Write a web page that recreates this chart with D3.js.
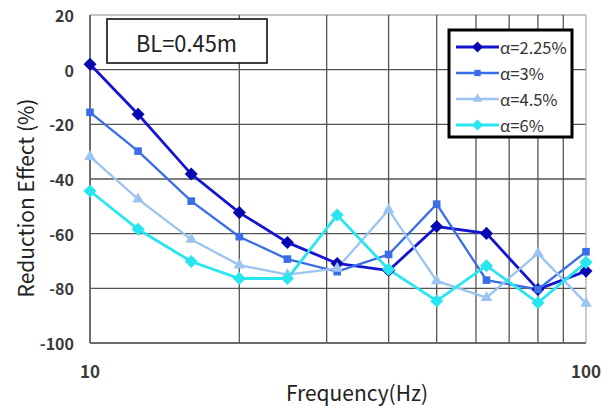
<!DOCTYPE html>
<html>
<head>
<meta charset="utf-8">
<script src="https://cdn.jsdelivr.net/npm/d3@7"></script>
<style>
  html, body { margin: 0; padding: 0; background: #fff; }
  svg { display: block; }
  text { font-family: "Noto Sans CJK JP", "Noto Sans", sans-serif; }
</style>
</head>
<body>
<svg id="chart" width="608" height="409"></svg>
<script>
// 1/3-octave band centre frequencies (Hz)
const frequencies = [10, 12.5, 16, 20, 25, 31.5, 40, 50, 63, 80, 100];

// Reduction effect (%) per porosity
const alpha225 = [2.0, -16.3, -38.2, -52.3, -63.2, -70.9, -73.5, -57.4, -59.9, -80.4, -73.7];
const alpha3   = [-15.6, -29.8, -48.1, -61.1, -69.3, -73.9, -67.6, -49.2, -77.0, -80.4, -66.6];
const alpha45  = [-31.8, -47.4, -62.1, -71.5, -75.0, -72.7, -51.3, -77.3, -83.4, -67.2, -85.5];
const alpha6   = [-44.4, -58.4, -70.2, -76.4, -76.4, -53.2, -73.1, -84.6, -71.7, -85.3, -70.5];

const seriesNames = ["α=2.25%", "α=3%", "α=4.5%", "α=6%"];
const yTicks = [20, 0, -20, -40, -60, -80, -100];
const xGrid = [10, 20, 30, 40, 50, 60, 70, 80, 90, 100];
const xTickLabels = [10, 100];

// diamond = square turned by 45 degrees
const series = [
  { name: seriesNames[0], values: alpha225, color: "#1414d2", fill: "#0808b0", shape: d3.symbolSquare,   size: 85, rot: 45, width: 2.8 },
  { name: seriesNames[1], values: alpha3,   color: "#3a6ee6", fill: "#3a6ee6", shape: d3.symbolSquare,   size: 58, rot: 0,  width: 2.3 },
  { name: seriesNames[2], values: alpha45,  color: "#9cc4f0", fill: "#9cc4f0", shape: d3.symbolTriangle, size: 58, rot: 0,  width: 2.3 },
  { name: seriesNames[3], values: alpha6,   color: "#28e6f0", fill: "#28e6f0", shape: d3.symbolSquare,   size: 85, rot: 45, width: 2.8 }
];

const svg = d3.select("#chart");
const margin = { left: 90, right: 22, top: 15, bottom: 66 };
const W = 608, H = 409;

const x = d3.scaleLog().domain([10, 100]).range([margin.left, W - margin.right]);
const y = d3.scaleLinear().domain([-100, 20]).range([H - margin.bottom, margin.top]);

const g = svg.append("g");

// grid
g.append("g").selectAll("line").data(yTicks).join("line")
  .attr("x1", x(10)).attr("x2", x(100))
  .attr("y1", d => y(d)).attr("y2", d => y(d))
  .attr("stroke", d => (d === 20 ? "#b0b0b0" : "#555")).attr("stroke-width", 1.3);
g.append("g").selectAll("line").data(xGrid).join("line")
  .attr("x1", d => x(d)).attr("x2", d => x(d))
  .attr("y1", y(20)).attr("y2", y(-100))
  .attr("stroke", d => (d === 100 ? "#b0b0b0" : "#555")).attr("stroke-width", 1.3);

// axis lines
g.append("line").attr("x1", x(10)).attr("x2", x(10)).attr("y1", y(20)).attr("y2", y(-100))
  .attr("stroke", "#666").attr("stroke-width", 1.5);
g.append("line").attr("x1", x(10)).attr("x2", x(100)).attr("y1", y(-100)).attr("y2", y(-100))
  .attr("stroke", "#666").attr("stroke-width", 1.5);

// y tick labels
g.append("g").selectAll("text").data(yTicks).join("text")
  .attr("x", x(10) - 16).attr("y", d => y(d))
  .attr("text-anchor", "end").attr("dominant-baseline", "central")
  .attr("font-size", 16).attr("font-weight", 600).attr("fill", "#3a3a3a")
  .text(d => d);

// x tick labels
g.append("g").selectAll("text").data(xTickLabels).join("text")
  .attr("x", d => x(d)).attr("y", 370)
  .attr("text-anchor", "middle").attr("dominant-baseline", "central")
  .attr("font-size", 17).attr("font-weight", 600).attr("fill", "#3a3a3a")
  .text(d => d);

// axis titles
svg.append("text").attr("x", 357).attr("y", 401)
  .attr("text-anchor", "middle")
  .attr("font-size", 21).attr("fill", "#222").text("Frequency(Hz)");
svg.append("text").attr("transform", "translate(25,198) rotate(-90)")
  .attr("text-anchor", "middle").attr("dominant-baseline", "central")
  .attr("font-size", 21).attr("fill", "#222").text("Reduction Effect (%)");

// lines and markers
const line = d3.line().x((d, i) => x(frequencies[i])).y(d => y(d));
series.forEach(s => {
  g.append("path").datum(s.values)
    .attr("d", line).attr("fill", "none")
    .attr("stroke", s.color).attr("stroke-width", s.width);
});
series.forEach(s => {
  g.append("g").selectAll("path").data(s.values).join("path")
    .attr("transform", (d, i) => `translate(${x(frequencies[i])},${y(d)}) rotate(${s.rot})`)
    .attr("d", d3.symbol().type(s.shape).size(s.size))
    .attr("fill", s.fill);
});

// BL annotation box
svg.append("rect").attr("x", 107).attr("y", 19).attr("width", 160).attr("height", 44)
  .attr("fill", "#fff").attr("stroke", "#111").attr("stroke-width", 1.6);
svg.append("text").attr("x", 136).attr("y", 52)
  .attr("font-size", 23).attr("fill", "#222")
  .attr("textLength", 101).attr("lengthAdjust", "spacingAndGlyphs")
  .text("BL=0.45m");

// legend
const lg = svg.append("g");
lg.append("rect").attr("x", 449).attr("y", 30).attr("width", 123).attr("height", 107)
  .attr("fill", "#fff").attr("stroke", "#000").attr("stroke-width", 3);
series.forEach((s, i) => {
  const cy = 47 + i * 26;
  lg.append("line").attr("x1", 456).attr("x2", 499).attr("y1", cy).attr("y2", cy)
    .attr("stroke", s.color).attr("stroke-width", s.width);
  lg.append("path").attr("transform", `translate(477.5,${cy}) rotate(${s.rot})`)
    .attr("d", d3.symbol().type(s.shape).size(s.size * 0.7)).attr("fill", s.fill);
  lg.append("text").attr("x", 500).attr("y", cy)
    .attr("dominant-baseline", "central").attr("font-size", 16.5).attr("fill", "#333")
    .text(s.name);
});
</script>
</body>
</html>
